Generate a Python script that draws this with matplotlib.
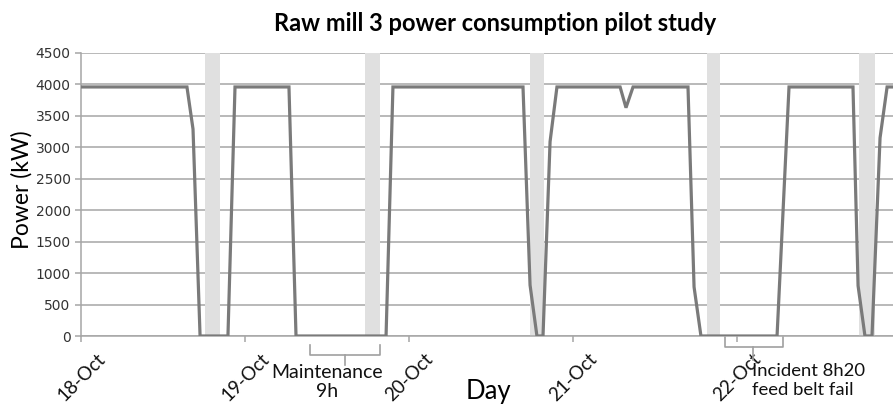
import matplotlib
matplotlib.use("Agg")
import matplotlib.pyplot as plt
import numpy as np

# time in days since 18-Oct 00:00, power in kW
t_day = [0.01, 0.646, 0.683, 0.726, 0.896, 0.939, 1.268, 1.311, 1.860, 1.902,
         2.695, 2.738, 2.780, 2.817, 2.860, 2.902, 3.287, 3.323, 3.366, 3.701,
         3.738, 3.780, 4.244, 4.317, 4.707, 4.738, 4.780, 4.823, 4.872, 4.915, 5.0]
power_kw = [3960, 3960, 3290, 0, 0, 3960, 3960, 0, 0, 3960,
            3960, 810, 0, 0, 3090, 3960, 3960, 3630, 3960, 3960,
            780, 0, 0, 3960, 3960, 800, 0, 0, 3150, 3960, 3960]

# shaded periods (start, end) in days
bands = [(0.756, 0.848), (1.732, 1.823), (2.738, 2.823), (3.817, 3.896), (4.744, 4.841)]

day_ticks = [0, 1, 2, 3, 4]
day_labels = ["18-Oct", "19-Oct", "20-Oct", "21-Oct", "22-Oct"]

# brackets: (x start, x end, x centre, y tips, y bar, y stem end)
brackets = [(1.396, 1.823, 1.61, -143, -302, -461),
            (3.927, 4.280, 4.098, -16, -175, -380)]
notes = [(1.50, -440, "Maintenance\n9h", "center", 14),
         (4.091, -430, "Incident 8h20\nfeed belt fail", "left", 13.3)]

font = "Lato"
fig = plt.figure(figsize=(8.93, 4.05), dpi=100)
ax = fig.add_axes([81 / 893, 69 / 405, 812 / 893, 283 / 405])

for a, b in bands:
    ax.axvspan(a, b, color="#e0e0e0", lw=0, zorder=1)

ax.plot(t_day, power_kw, color="#7a7a7a", lw=2.3, zorder=3, solid_joinstyle="miter")

ax.set_xlim(0, 4.951)
ax.set_ylim(0, 4500)
ax.set_yticks(np.arange(0, 4501, 500))
ax.yaxis.grid(True, color="#a6a6a6", lw=1.1, zorder=0)
ax.set_axisbelow(True)
for s in ["top", "right"]:
    ax.spines[s].set_visible(False)
for s in ["left", "bottom"]:
    ax.spines[s].set_color("#a6a6a6")
    ax.spines[s].set_linewidth(1.1)
ax.tick_params(axis="both", colors="#a6a6a6", length=4, width=1.1)
ax.tick_params(axis="y", labelcolor="#333333", labelsize=10)
ax.set_xticks(day_ticks)
ax.set_xticklabels(day_labels, rotation=45, ha="center", va="top",
                   fontsize=13.5, family=font, color="#111111")
ax.tick_params(axis="x", pad=6)

for x0, x1, xc, ytip, ybar, ystem in brackets:
    ax.plot([x0, x0, x1, x1], [ytip, ybar, ybar, ytip], color="#a0a0a0", lw=1.2, clip_on=False)
    ax.plot([xc, xc], [ybar, ystem], color="#a0a0a0", lw=1.2, clip_on=False)

for x, y, s, ha, fs in notes:
    ax.text(x, y, s, ha=ha, va="top", fontsize=fs, family=font, color="#111111",
            linespacing=1.2, clip_on=False)

fig.text(0.555, 0.943, "Raw mill 3 power consumption pilot study", ha="center", va="center",
         fontsize=17, fontweight="bold", family=font)
fig.text(0.024, 0.531, "Power (kW)", rotation=90, ha="center", va="center",
         fontsize=16.5, family=font)
fig.text(488 / 893, 0.016, "Day", ha="center", va="baseline", fontsize=18.5, family=font)

fig.savefig("out.png", dpi=100)
